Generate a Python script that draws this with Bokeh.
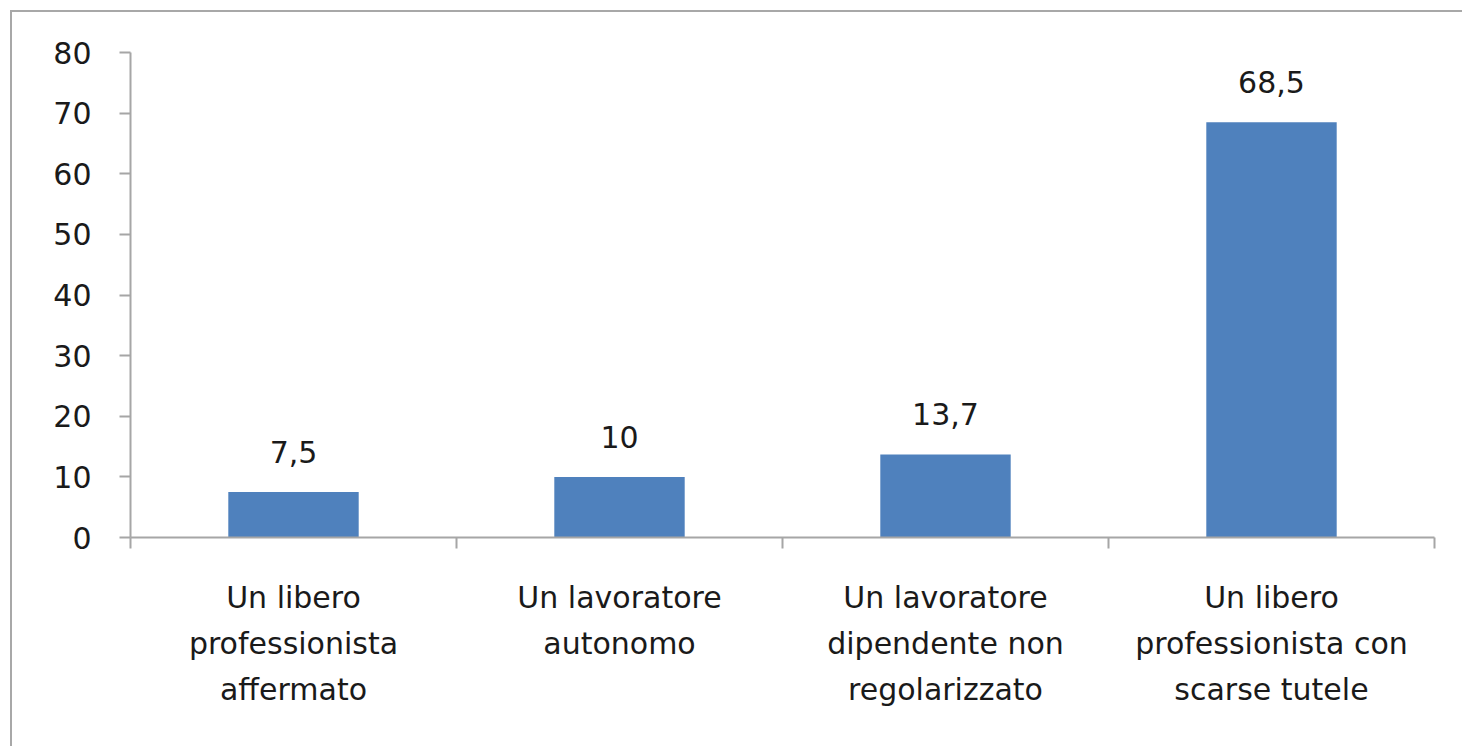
from bokeh.plotting import figure
from bokeh.models import ColumnDataSource, Range1d, FixedTicker, LabelSet
from bokeh.core.properties import value
from bokeh.embed import file_html
from bokeh.resources import INLINE

categories = [
    "Un libero\nprofessionista\naffermato",
    "Un lavoratore\nautonomo",
    "Un lavoratore\ndipendente non\nregolarizzato",
    "Un libero\nprofessionista con\nscarse tutele",
]
values = [7.5, 10, 13.7, 68.5]
value_labels = ["7,5", "10", "13,7", "68,5"]
y_ticks = [0, 10, 20, 30, 40, 50, 60, 70, 80]

FONT = "DejaVu Sans"
FSIZE = "30px"
GRAY = "#a6a6a6"
TXT = "#1a1a1a"

centers = [i + 0.5 for i in range(len(categories))]
bounds = [float(i) for i in range(len(categories) + 1)]

src = ColumnDataSource(dict(x=centers, top=values, lab=value_labels))

p = figure(width=1452, height=736, output_backend="svg", toolbar_location=None,
           x_range=Range1d(0, len(categories)), y_range=Range1d(0, 80),
           min_border_left=118, min_border_right=30, min_border_top=40,
           min_border_bottom=211)
p.margin = (10, 0, 0, 10)
p.styles = {"border-left": "2px solid #a8a8a8", "border-top": "2px solid #a8a8a8"}
p.outline_line_color = None
p.xgrid.visible = False
p.ygrid.visible = False

p.vbar(x="x", top="top", width=0.4, bottom=0, source=src,
       fill_color="#4f81bd", line_color=None)

labels = LabelSet(x="x", y="top", text="lab", source=src, y_offset=40,
                  text_align="center", text_baseline="middle",
                  text_font=value(FONT), text_font_size=value(FSIZE),
                  text_color=TXT)
p.add_layout(labels)

xa = p.xaxis[0]
xa.ticker = FixedTicker(ticks=centers, minor_ticks=bounds)
xa.major_label_overrides = {c: lab for c, lab in zip(centers, categories)}
xa.major_tick_line_color = None
xa.minor_tick_line_color = GRAY
xa.minor_tick_line_width = 2
xa.minor_tick_out = 11
xa.minor_tick_in = 0
xa.axis_line_color = GRAY
xa.axis_line_width = 2
xa.major_label_standoff = 31
xa.major_label_text_font = FONT
xa.major_label_text_font_size = FSIZE
xa.major_label_text_color = TXT
xa.major_label_text_align = "center"
xa.major_label_text_line_height = 1.32

ya = p.yaxis[0]
ya.ticker = FixedTicker(ticks=y_ticks)
ya.minor_tick_line_color = None
ya.major_tick_line_color = GRAY
ya.major_tick_line_width = 2
ya.major_tick_out = 11
ya.major_tick_in = 0
ya.axis_line_color = GRAY
ya.axis_line_width = 2
ya.major_label_standoff = 28
ya.major_label_text_font = FONT
ya.major_label_text_font_size = FSIZE
ya.major_label_text_color = TXT

open("out.html", "w").write(file_html(p, INLINE))
